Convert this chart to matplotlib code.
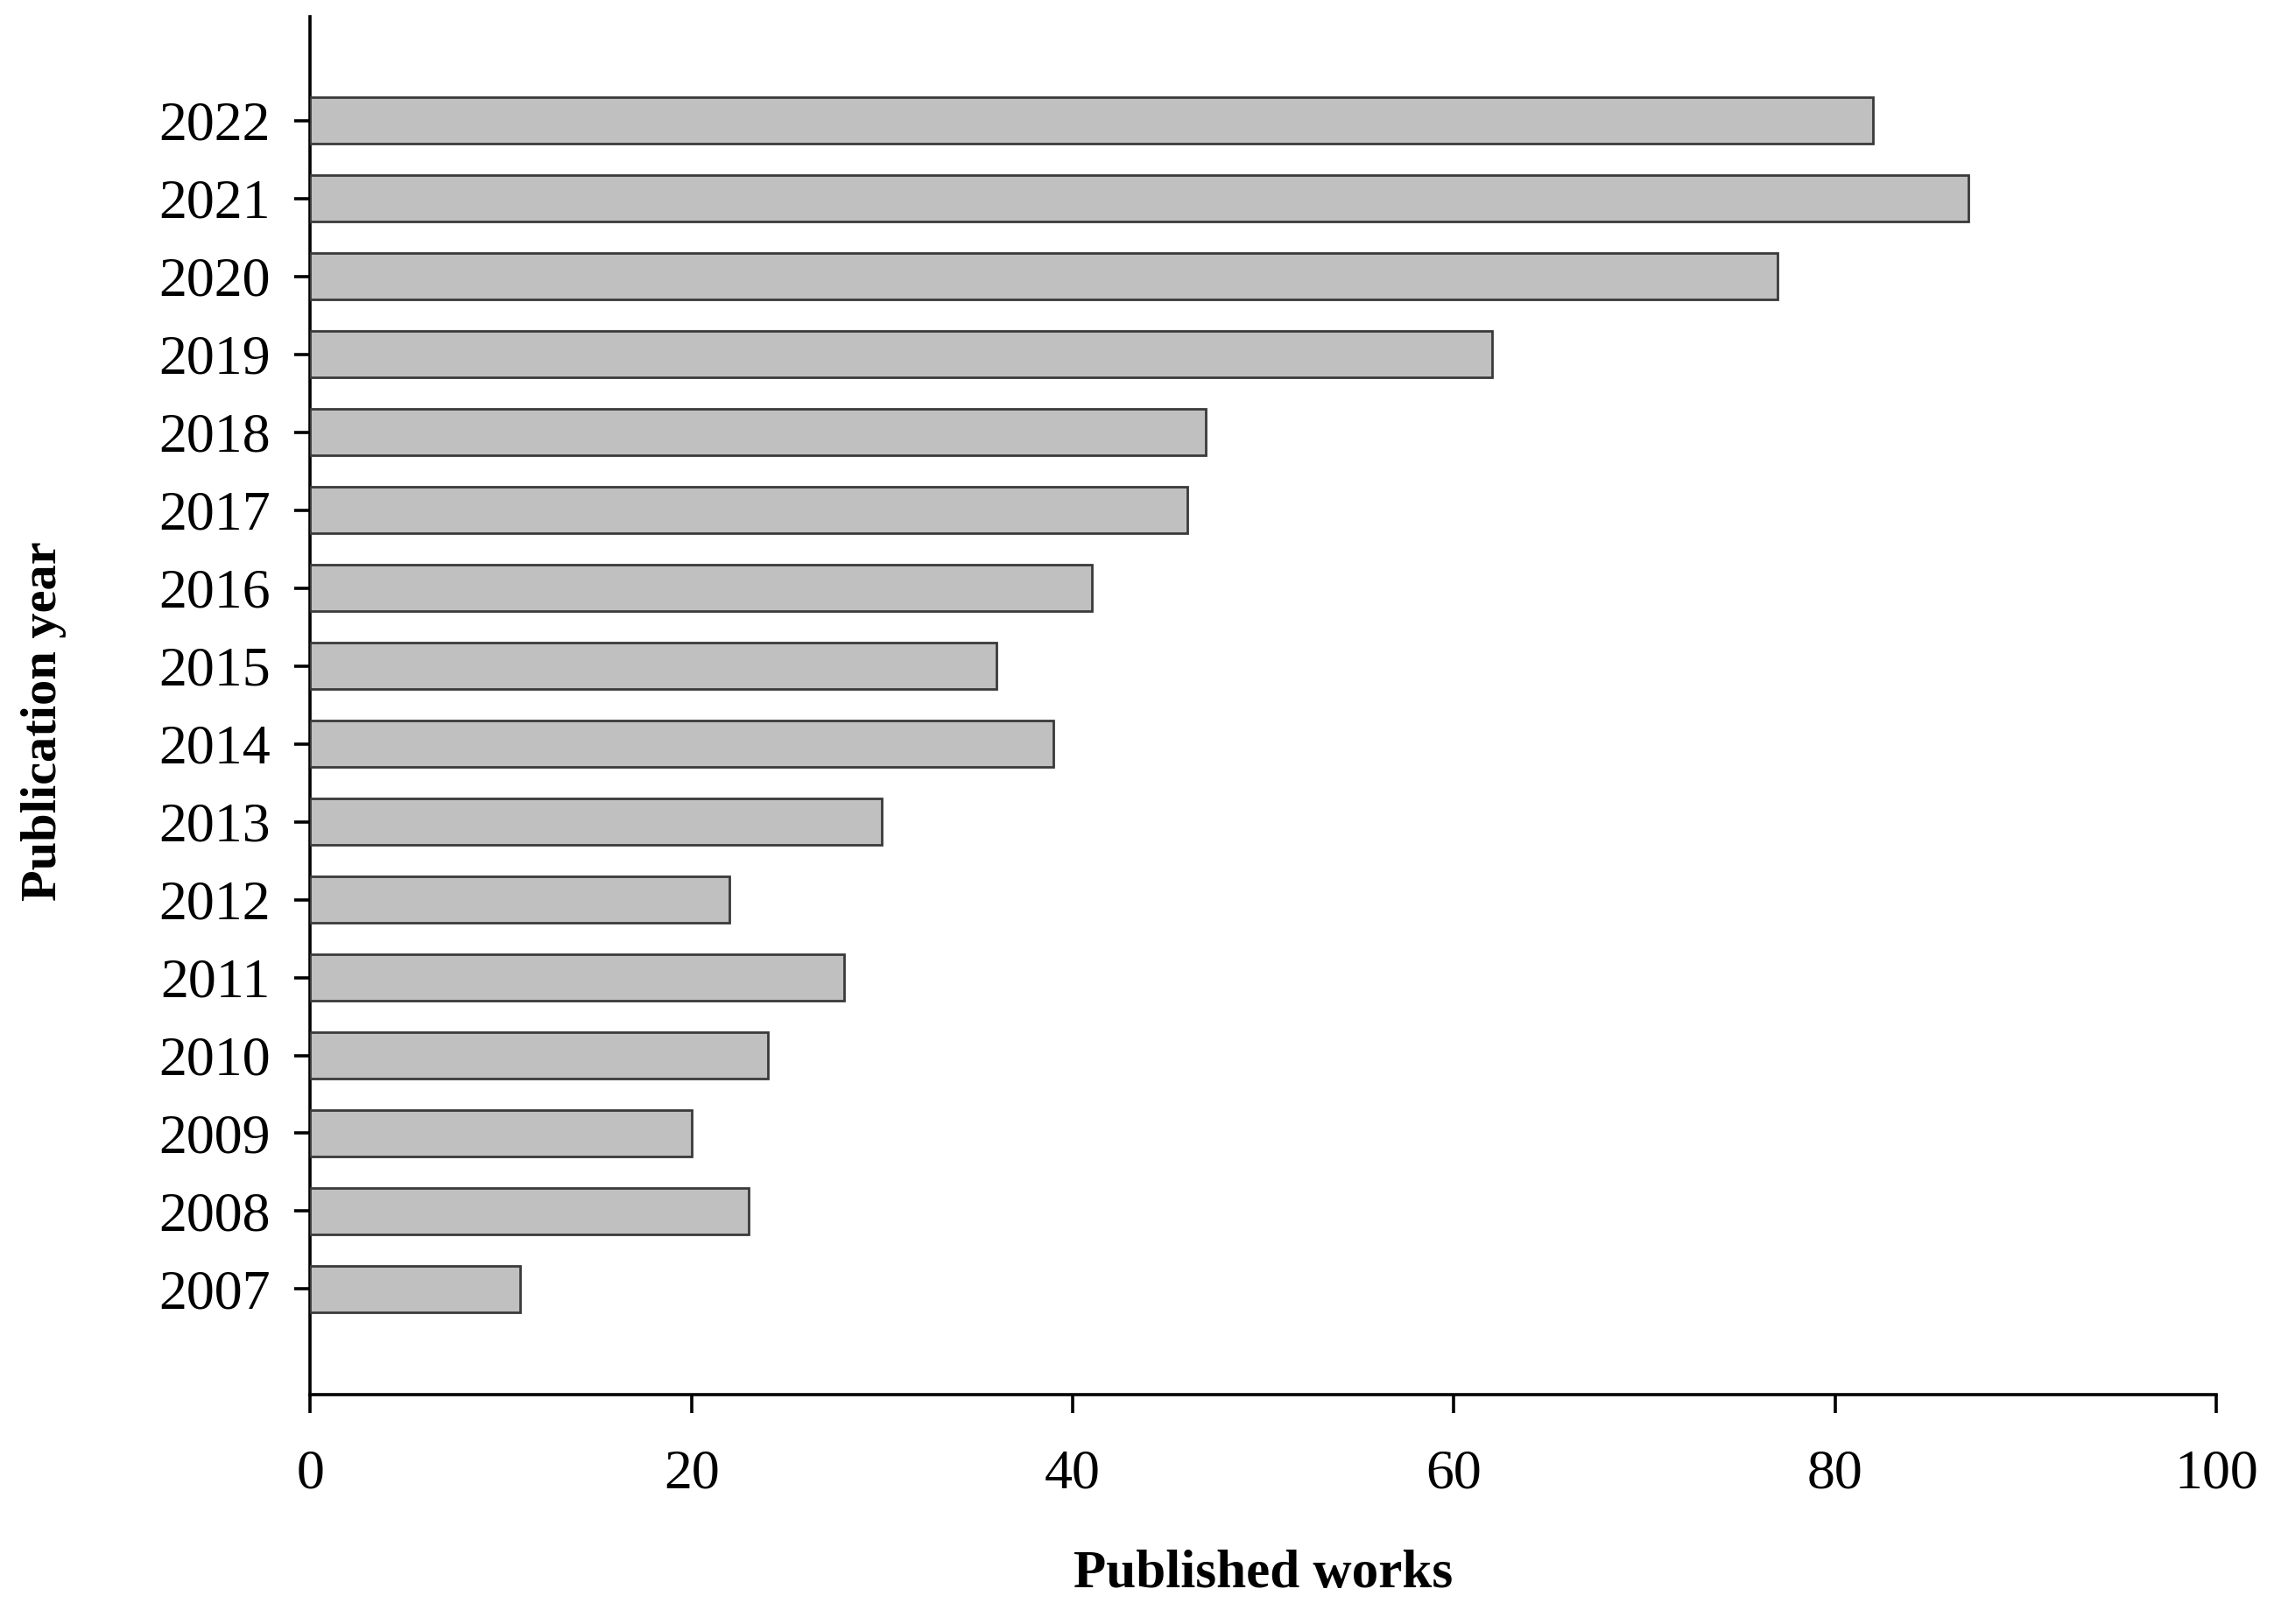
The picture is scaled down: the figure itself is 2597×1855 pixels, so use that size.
import matplotlib
matplotlib.use("Agg")
import matplotlib.pyplot as plt

plt.rcParams.update({
    'font.family': ['Liberation Serif', 'DejaVu Serif'],
    'font.size': 22,
})

years = [2007, 2008, 2009, 2010, 2011, 2012, 2013, 2014,
         2015, 2016, 2017, 2018, 2019, 2020, 2021, 2022]
works = [11, 23, 20, 24, 28, 22, 30, 39,
         36, 41, 46, 47, 62, 77, 87, 82]
x_ticks = [0, 20, 40, 60, 80, 100]

fig = plt.figure(figsize=(12.985, 9.275), dpi=200)
ax = fig.add_axes([0.1365, 0.141, 0.838, 0.849])

pos = list(range(len(years)))
ax.barh(pos, works, height=0.6, color="#C0C0C0", edgecolor="#3a3a3a",
        linewidth=1.0, zorder=3)

ax.set_yticks(pos)
ax.set_yticklabels([str(y) for y in years])
ax.set_ylim(-1.36, len(years) - 1 + 1.34)
ax.set_xlim(0, 100)
ax.set_xticks(x_ticks)

for s in ("top", "right"):
    ax.spines[s].set_visible(False)
for s in ("left", "bottom"):
    ax.spines[s].set_linewidth(1.3)

ax.tick_params(axis="y", direction="out", length=6.5, width=1.3, pad=10, labelsize=23)
ax.tick_params(axis="x", direction="out", length=7.5, width=1.3, pad=15, labelsize=23)

ax.set_xlabel("Published works", fontweight="bold", fontsize=22, labelpad=20)
ax.set_ylabel("Publication year", fontweight="bold", fontsize=21)
ax.yaxis.set_label_coords(-0.128, 0.489)

fig.savefig("out.png", dpi=200)
